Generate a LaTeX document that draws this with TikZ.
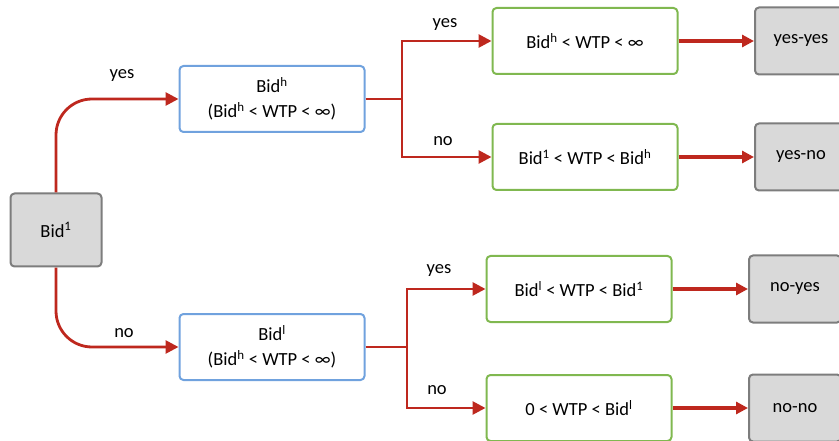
\documentclass[tikz,border=0pt]{standalone}
\usepackage{fontspec}
\setmainfont{Carlito}
\usetikzlibrary{arrows.meta}

\definecolor{linered}{RGB}{190,40,30}
\definecolor{boxblue}{RGB}{112,162,222}
\definecolor{boxgreen}{RGB}{128,184,80}
\definecolor{boxgray}{RGB}{217,217,217}
\definecolor{edgegray}{RGB}{125,125,125}

\newcommand{\bidsup}[1]{Bid\textsuperscript{#1}}

\begin{document}
\begin{tikzpicture}[
    x=1pt,
    y=-1pt,
    font=\fontsize{18.5}{25}\selectfont,
    startbox/.style={draw=edgegray, fill=boxgray, line width=2pt, rounded corners=4pt,
        minimum width=91pt, minimum height=73pt},
    bidbox/.style={draw=boxblue, line width=2pt, rounded corners=4pt, align=center,
        minimum width=185pt, minimum height=66pt},
    wtpbox/.style={draw=boxgreen, line width=2pt, rounded corners=4pt,
        minimum width=185pt, minimum height=66pt},
    endbox/.style={draw=edgegray, fill=boxgray, line width=2pt, rounded corners=4pt,
        minimum width=92pt, minimum height=67pt},
    branch/.style={draw=linered, line width=2.8pt},
    link/.style={branch, -{Triangle[length=13pt, width=13pt]}},
    result/.style={draw=linered, line width=4.5pt, -{Triangle[length=12pt, width=12pt]}}
]

\useasboundingbox (0,0) rectangle (839,441);

% First bid
\node[startbox] (bid1) at (56,230) {\bidsup{1}};

% Follow-up bids
\node[bidbox] (high) at (272,99) {\bidsup{h}\\(\bidsup{h} < WTP < ∞)};
\node[bidbox] (low) at (272,347) {\bidsup{l}\\(\bidsup{h} < WTP < ∞)};

% WTP intervals
\node[wtpbox] (w1) at (585,41) {\bidsup{h} < WTP < ∞};
\node[wtpbox] (w2) at (585,157) {\bidsup{1} < WTP < \bidsup{h}};
\node[wtpbox] (w3) at (579,289) {\bidsup{l} < WTP < \bidsup{1}};
\node[wtpbox] (w4) at (579,408) {0 < WTP < \bidsup{l}};

% Outcomes
\node[endbox] (yy) at (801,41) {yes-yes};
\node[endbox] (yn) at (801,157) {yes-no};
\node[endbox] (ny) at (795,289) {no-yes};
\node[endbox] (nn) at (795,408) {no-no};

% Split points
\coordinate (hs) at (402,99);
\coordinate (ls) at (407,347);

% Connectors
\draw[link, rounded corners=36pt] (bid1.north) |- (high.west);
\draw[link, rounded corners=36pt] (bid1.south) |- (low.west);
\draw[branch] (high.east) -- (hs);
\draw[branch] (low.east) -- (ls);
\draw[link] (hs) |- (w1.west);
\draw[link] (hs) |- (w2.west);
\draw[link] (ls) |- (w3.west);
\draw[link] (ls) |- (w4.west);
\foreach \a/\b in {w1/yy, w2/yn, w3/ny, w4/nn} {
    \draw[result] (\a.east) -- (\b.west);
}

% Answers
\node (ans1) at (122,76) {yes};
\node (ans2) at (124,333) {no};
\node (ans3) at (445,25) {yes};
\node (ans4) at (443,141) {no};
\node (ans5) at (439,271) {yes};
\node (ans6) at (437,390) {no};

\end{tikzpicture}
\end{document}
